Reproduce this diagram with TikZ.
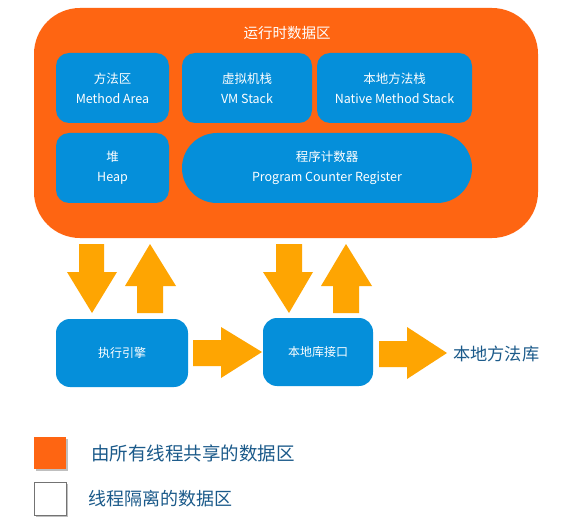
\documentclass[tikz,border=0pt]{standalone}
\usepackage{fontspec}
\setmainfont{Noto Sans CJK SC}
\begin{document}
\begin{tikzpicture}[x=1pt,y=-1pt,
  bluebox/.style={draw=none,fill=jblue,rounded corners=13pt,text=white,align=center,
    inner sep=0pt,font=\fontsize{12.5}{20}\selectfont},
  blockarrow/.style={fill=jarrow,draw=none},
  legendtext/.style={text=jdark,anchor=west,inner sep=0pt}]
\definecolor{jorange}{HTML}{FE6512}
\definecolor{jblue}{HTML}{058FDA}
\definecolor{jarrow}{HTML}{FEA502}
\definecolor{jdark}{HTML}{1B5A8A}
\useasboundingbox (0,0) rectangle (568,532);
\fill[white] (0,0) rectangle (568,532);
% big runtime data area
\fill[jorange,rounded corners=46pt] (34,8) rectangle (538,238);
\node[text=white,font=\fontsize{14.5}{16}\selectfont] (title) at (287,33) {运行时数据区};
\node[bluebox,minimum width=113pt,minimum height=70pt] (ma) at (112.5,88) {方法区\\Method Area};
\node[bluebox,minimum width=130pt,minimum height=70pt] (vm) at (247,88) {虚拟机栈\\VM Stack};
\node[bluebox,minimum width=155pt,minimum height=70pt] (nms) at (394.5,88) {本地方法栈\\Native Method Stack};
\node[bluebox,minimum width=113pt,minimum height=70pt] (heap) at (112.5,168) {堆\\Heap};
\node[bluebox,rounded corners=35pt,minimum width=290pt,minimum height=70pt] (pc) at (327,168) {程序计数器\\Program Counter Register};
% bottom boxes
\node[bluebox,rounded corners=14pt,minimum width=132pt,minimum height=68pt,font=\fontsize{12}{14}\selectfont] (exec) at (122,353) {执行引擎};
\node[bluebox,rounded corners=14pt,minimum width=110pt,minimum height=68pt,font=\fontsize{12}{14}\selectfont] (nli) at (318,352) {本地库接口};
\node[text=jdark,anchor=west,inner sep=0pt,font=\fontsize{17.2}{19}\selectfont] (nlib) at (453,354) {本地方法库};
% block arrows
\fill[blockarrow] (79,244) -- (104,244) -- (104,272) -- (117,272) -- (92,313) -- (67,272) -- (79,272) -- cycle;
\fill[blockarrow] (150,244) -- (176,286) -- (163,286) -- (163,313) -- (137,313) -- (137,286) -- (125,286) -- cycle;
\fill[blockarrow] (276,244) -- (302,244) -- (302,272) -- (313,272) -- (289,313) -- (263,272) -- (276,272) -- cycle;
\fill[blockarrow] (346,244) -- (372,286) -- (359,286) -- (359,313) -- (333,313) -- (333,286) -- (321,286) -- cycle;
\fill[blockarrow] (193,340) -- (221,340) -- (221,327) -- (262,352) -- (221,378) -- (221,366) -- (193,366) -- cycle;
\fill[blockarrow] (379,341) -- (407,341) -- (407,327) -- (447,353) -- (407,379) -- (407,367) -- (379,367) -- cycle;
% legend
\fill[black!25] (36,439) rectangle (68,471);
\fill[jorange] (34,437) rectangle (66,469);
\fill[black!25] (36,484) rectangle (68,517);
\filldraw[fill=white,draw=black!55,line width=0.8pt] (34,482) rectangle (66,515);
\node[legendtext,font=\fontsize{18.5}{21}\selectfont] (l1) at (91,453) {由所有线程共享的数据区};
\node[legendtext,font=\fontsize{18}{20}\selectfont] (l2) at (88,499) {线程隔离的数据区};
\end{tikzpicture}
\end{document}
